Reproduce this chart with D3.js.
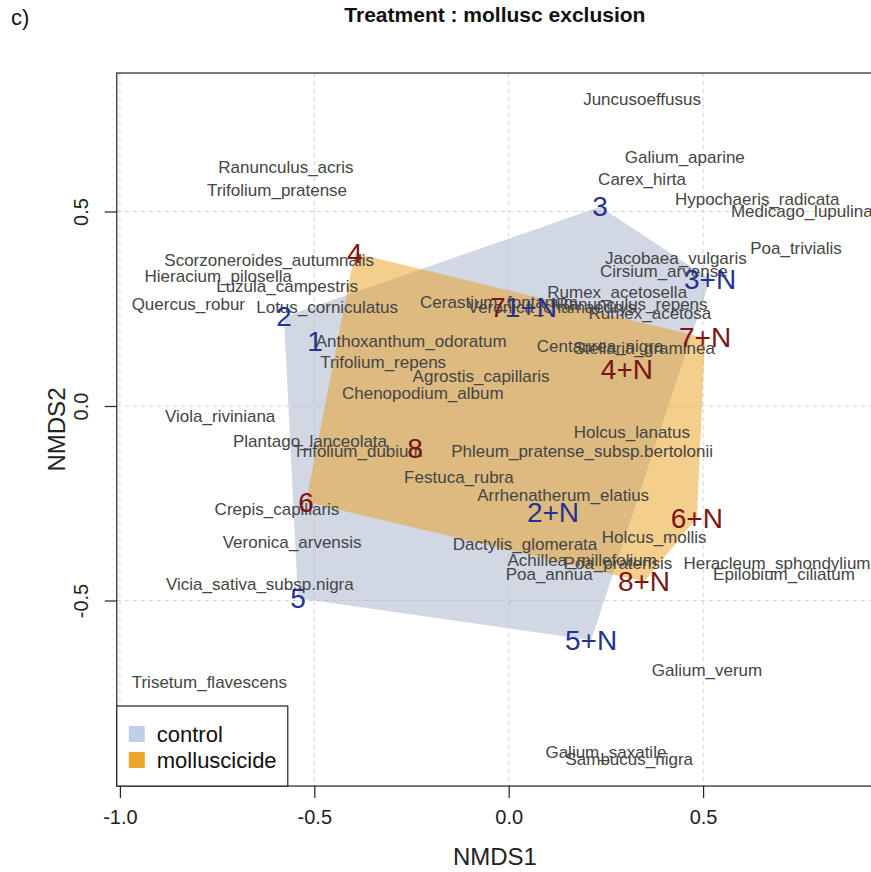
<!DOCTYPE html>
<html>
<head>
<meta charset="utf-8">
<script src="https://cdn.jsdelivr.net/npm/d3@7"></script>
<style>
  body { margin: 0; background: #fff; }
  text { font-family: "Liberation Sans", Arial, Helvetica, sans-serif; }
</style>
</head>
<body>
<svg id="chart" width="871" height="872"></svg>
<script>
// species scores (NMDS1, NMDS2)
var species = ["Juncusoeffusus", "Galium_aparine", "Ranunculus_acris", "Trifolium_pratense", "Carex_hirta",
  "Hypochaeris_radicata", "Medicago_lupulina", "Poa_trivialis", "Scorzoneroides_autumnalis", "Jacobaea_vulgaris",
  "Hieracium_pilosella", "Cirsium_arvense", "Luzula_campestris", "Rumex_acetosella", "Quercus_robur",
  "Lotus_corniculatus", "Cerastium_fontanum", "Veronica_chamaedrys", "Ranunculus_repens", "Rumex_acetosa",
  "Anthoxanthum_odoratum", "Centaurea_nigra", "Stellaria_graminea", "Trifolium_repens", "Agrostis_capillaris",
  "Chenopodium_album", "Viola_riviniana", "Holcus_lanatus", "Plantago_lanceolata", "Trifolium_dubium",
  "Phleum_pratense_subsp.bertolonii", "Festuca_rubra", "Arrhenatherum_elatius", "Crepis_capillaris", "Holcus_mollis",
  "Veronica_arvensis", "Dactylis_glomerata", "Achillea_millefolium", "Poa_pratensis", "Heracleum_sphondylium",
  "Poa_annua", "Epilobium_ciliatum", "Vicia_sativa_subsp.nigra", "Galium_verum", "Trisetum_flavescens",
  "Galium_saxatile", "Sambucus_nigra"];
var speciesX = [0.343, 0.453, -0.573, -0.596, 0.343,
  0.639, 0.754, 0.739, -0.616, 0.430,
  -0.747, 0.399, -0.570, 0.279, -0.824,
  -0.467, -0.025, 0.111, 0.317, 0.363,
  -0.251, 0.235, 0.348, -0.323, -0.071,
  -0.221, -0.742, 0.317, -0.511, -0.388,
  0.189, -0.128, 0.140, -0.596, 0.374,
  -0.557, 0.042, 0.189, 0.281, 0.690,
  0.104, 0.708, -0.640, 0.510, -0.770,
  0.250, 0.310];
var speciesY = [0.787, 0.640, 0.612, 0.553, 0.581,
  0.532, 0.499, 0.404, 0.375, 0.378,
  0.334, 0.347, 0.306, 0.293, 0.260,
  0.252, 0.267, 0.254, 0.260, 0.239,
  0.167, 0.154, 0.147, 0.113, 0.077,
  0.033, -0.028, -0.069, -0.090, -0.118,
  -0.118, -0.183, -0.229, -0.267, -0.339,
  -0.350, -0.357, -0.396, -0.404, -0.406,
  -0.434, -0.434, -0.458, -0.679, -0.712,
  -0.892, -0.910];

// site scores
var sites = ["1", "2", "3", "5", "1+N", "2+N", "3+N", "5+N",
  "4", "6", "7", "8", "4+N", "6+N", "7+N", "8+N"];
var siteX = [-0.498, -0.578, 0.235, -0.542, 0.057, 0.114, 0.518, 0.212,
  -0.396, -0.521, -0.028, -0.241, 0.304, 0.484, 0.505, 0.348];
var siteY = [0.165, 0.229, 0.512, -0.494, 0.252, -0.275, 0.326, -0.602,
  0.393, -0.247, 0.252, -0.108, 0.093, -0.288, 0.175, -0.452];
var siteGroup = ["control", "control", "control", "control", "control", "control", "control", "control",
  "molluscicide", "molluscicide", "molluscicide", "molluscicide", "molluscicide", "molluscicide", "molluscicide", "molluscicide"];

var groups = ["control", "molluscicide"];
var xTicks = [-1.0, -0.5, 0.0, 0.5];
var yTicks = [-0.5, 0.0, 0.5];

var hullFill = { control: "#a5afc9", molluscicide: "#e79d19" };
var legendFill = { control: "#bfcfea", molluscicide: "#eaa52b" };
var siteColor = { control: "#24338f", molluscicide: "#7d1414" };

var svg = d3.select("#chart");

var xlim = [-1.008, 0.937],
    ylim = [-0.977, 0.856];

var x = d3.scaleLinear().domain([-1, 0]).range([119.9, 508.7]);
var y = d3.scaleLinear().domain([0, 0.5]).range([406, 211.5]);

var boxL = x(xlim[0]), boxR = x(xlim[1]), boxT = y(ylim[1]), boxB = y(ylim[0]);

// grid
var grid = svg.append("g")
    .attr("stroke", "#d3d3d3")
    .attr("stroke-width", 1)
    .attr("stroke-dasharray", "4,4");

grid.selectAll(".vg")
    .data(xTicks)
    .enter()
    .append("line")
    .attr("x1", function(d) { return x(d); })
    .attr("x2", function(d) { return x(d); })
    .attr("y1", boxT)
    .attr("y2", boxB);

grid.selectAll(".hg")
    .data(yTicks)
    .enter()
    .append("line")
    .attr("x1", boxL)
    .attr("x2", boxR)
    .attr("y1", function(d) { return y(d); })
    .attr("y2", function(d) { return y(d); });

// hulls
groups.forEach(function(g) {
    var pts = [];
    sites.forEach(function(s, i) {
        if (siteGroup[i] === g) pts.push([x(siteX[i]), y(siteY[i])]);
    });
    var hull = d3.polygonHull(pts);
    svg.append("path")
        .attr("d", "M" + hull.join("L") + "Z")
        .attr("fill", hullFill[g])
        .attr("fill-opacity", 0.5)
        .attr("stroke", "none");
});

// species labels
svg.append("g")
    .selectAll("text")
    .data(species)
    .enter()
    .append("text")
    .attr("x", function(d, i) { return x(speciesX[i]); })
    .attr("y", function(d, i) { return y(speciesY[i]); })
    .attr("text-anchor", "middle")
    .attr("dominant-baseline", "central")
    .style("font-size", "17px")
    .attr("fill", "#454545")
    .text(function(d) { return d; });

// site labels
svg.append("g")
    .selectAll("text")
    .data(sites)
    .enter()
    .append("text")
    .attr("x", function(d, i) { return x(siteX[i]); })
    .attr("y", function(d, i) { return y(siteY[i]); })
    .attr("text-anchor", "middle")
    .attr("dominant-baseline", "central")
    .style("font-size", "28px")
    .attr("fill", function(d, i) { return siteColor[siteGroup[i]]; })
    .text(function(d) { return d; });

// box
svg.append("rect")
    .attr("x", boxL)
    .attr("y", boxT)
    .attr("width", boxR - boxL)
    .attr("height", boxB - boxT)
    .attr("fill", "none")
    .attr("stroke", "#222")
    .attr("stroke-width", 1.2);

// axes
var fmt = function(d) { return d3.format(".1f")(d).replace("−", "-"); };

var xAxis = svg.append("g")
    .attr("transform", "translate(0," + boxB + ")")
    .call(d3.axisBottom(x).tickValues(xTicks).tickSize(12).tickPadding(12).tickFormat(fmt));
xAxis.select(".domain").remove();
xAxis.selectAll("line").attr("stroke", "#222").attr("stroke-width", 1.2);
xAxis.selectAll("text")
    .style("font-size", "20px")
    .attr("fill", "#222");

var yAxis = svg.append("g")
    .attr("transform", "translate(" + boxL + ",0)")
    .call(d3.axisLeft(y).tickValues(yTicks).tickSize(12).tickPadding(0).tickFormat(fmt));
yAxis.select(".domain").remove();
yAxis.selectAll("line").attr("stroke", "#222").attr("stroke-width", 1.2);
yAxis.selectAll("text")
    .style("font-size", "20px")
    .attr("fill", "#222")
    .attr("x", null)
    .attr("dy", null)
    .attr("text-anchor", "middle")
    .attr("transform", "translate(-29,0) rotate(-90)");

// axis titles
svg.append("text")
    .attr("x", (boxL + boxR) / 2)
    .attr("y", 865)
    .attr("text-anchor", "middle")
    .style("font-size", "24px")
    .attr("fill", "#222")
    .text("NMDS1");

svg.append("text")
    .attr("transform", "translate(65," + ((boxT + boxB) / 2) + ") rotate(-90)")
    .attr("text-anchor", "middle")
    .style("font-size", "24px")
    .attr("fill", "#222")
    .text("NMDS2");

// title
svg.append("text")
    .attr("x", (boxL + boxR) / 2)
    .attr("y", 22)
    .attr("text-anchor", "middle")
    .style("font-size", "21px")
    .style("font-weight", "bold")
    .attr("fill", "#111")
    .text("Treatment : mollusc exclusion");

svg.append("text")
    .attr("x", 11)
    .attr("y", 25)
    .style("font-size", "22px")
    .attr("fill", "#111")
    .text("c)");

// legend
var legend = svg.append("g");
legend.append("rect")
    .attr("x", boxL)
    .attr("y", 706)
    .attr("width", 171)
    .attr("height", boxB - 706)
    .attr("fill", "#fff")
    .attr("stroke", "#222")
    .attr("stroke-width", 1.2);

var items = legend.selectAll(".item")
    .data(groups)
    .enter()
    .append("g")
    .attr("transform", function(d, i) { return "translate(" + (boxL + 12) + "," + (734 + 26 * i) + ")"; });

items.append("rect")
    .attr("x", 0)
    .attr("y", -8)
    .attr("width", 16)
    .attr("height", 16)
    .attr("fill", function(d) { return legendFill[d]; });

items.append("text")
    .attr("x", 28)
    .attr("y", 0)
    .attr("dominant-baseline", "central")
    .style("font-size", "22px")
    .attr("fill", "#111")
    .text(function(d) { return d; });
</script>
</body>
</html>
